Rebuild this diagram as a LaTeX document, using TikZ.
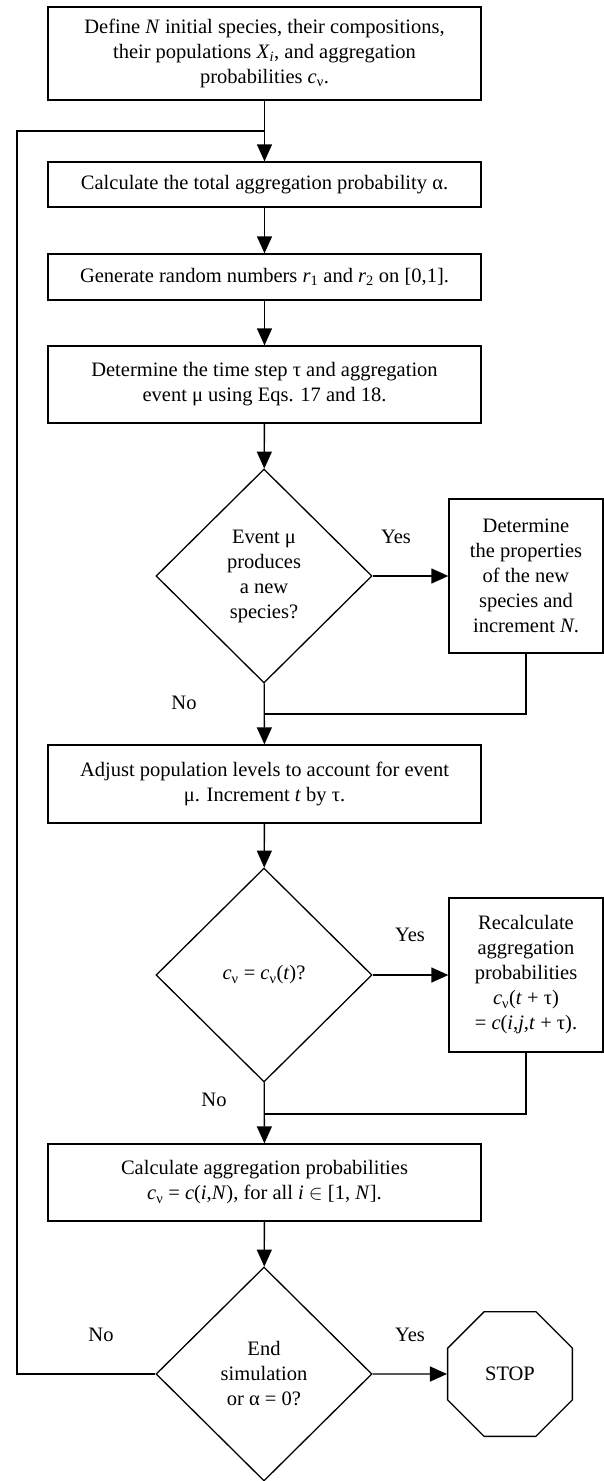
\documentclass[tikz,border=0pt]{standalone}
\usepackage{fontspec}
\setmainfont{Liberation Serif}
\usepackage{tikz}
\usetikzlibrary{arrows.meta,shapes.geometric}

\begin{document}
\begin{tikzpicture}[x=1pt, y=-1pt, line width=1.3pt,
  every node/.style={font=\fontsize{20.5}{25}\selectfont, align=center},
  box/.style={draw, rectangle, minimum width=433pt, inner sep=0pt},
  side/.style={draw, rectangle, minimum width=154pt, minimum height=154pt, inner sep=0pt},
  test/.style={draw, diamond, minimum width=216pt, minimum height=214pt, inner sep=0pt},
  arr/.style={-{Triangle[length=17pt,width=15pt]}}]
  \useasboundingbox (0,0) rectangle (604,1481);
  \node[box, minimum height=93pt] (def) at (264.5,53.5) {Define \textit{N} initial species, their compositions,\\ their populations \textit{X}\textsubscript{\textit{i}}, and aggregation\\ probabilities \textit{c}\textsubscript{ν}.};
  \node[box, minimum height=45pt] (tot) at (264.5,184.5) {Calculate the total aggregation probability α.};
  \node[box, minimum height=46pt] (rnd) at (264.5,277) {Generate random numbers \textit{r}\textsubscript{1} and \textit{r}\textsubscript{2} on [0,1].};
  \node[box, minimum height=77pt] (dt) at (264.5,384.5) {Determine the time step τ and aggregation\\ event μ using Eqs. 17 and 18.};
  \node[test] (q1) at (264,576) {Event μ\\ produces\\ a new\\ species?};
  \node[side] (prop) at (526,576) {Determine\\ the properties\\ of the new\\ species and\\ increment \textit{N}.};
  \node[box, minimum height=78pt] (adj) at (264.5,784) {Adjust population levels to account for event\\ μ. Increment \textit{t} by τ.};
  \node[test] (q2) at (264,975) {\textit{c}\textsubscript{ν} = \textit{c}\textsubscript{ν}(\textit{t})?};
  \node[side] (recalc) at (526,975) {Recalculate\\ aggregation\\ probabilities\\ \textit{c}\textsubscript{ν}(\textit{t} + τ)\\ = \textit{c}(\textit{i},\textit{j},\textit{t} + τ).};
  \node[box, minimum height=77pt] (calc) at (264.5,1182.5) {Calculate aggregation probabilities\\ \textit{c}\textsubscript{ν} = \textit{c}(\textit{i},\textit{N}), for all \textit{i} $\in$ [1, \textit{N}].};
  \node[test] (q3) at (264,1374) {End\\ simulation\\ or α = 0?};
  \node[draw, regular polygon, regular polygon sides=8, minimum size=135pt, inner sep=0pt] (stop) at (510,1374) {STOP};
  % yes / no labels
  \node (y1) at (396,537) {Yes};
  \node (n1) at (184,703) {No};
  \node (y2) at (410,935) {Yes};
  \node (n2) at (214,1100) {No};
  \node (y3) at (410,1335) {Yes};
  \node (n3) at (101,1335) {No};
  % joins
  \coordinate (j0) at (264,131);
  \coordinate (c0) at (17,131);
  \coordinate (j1) at (264,714);
  \coordinate (j2) at (264,1114);
  \draw[arr] (def) -- (tot);
  \draw[arr] (tot) -- (rnd);
  \draw[arr] (rnd) -- (dt);
  \draw[arr] (dt) -- (q1);
  \draw[arr] (q1) -- (prop);
  \draw (prop.south) |- (j1);
  \draw[arr] (q1) -- (adj);
  \draw[arr] (adj) -- (q2);
  \draw[arr] (q2) -- (recalc);
  \draw (recalc.south) |- (j2);
  \draw[arr] (q2) -- (calc);
  \draw[arr] (calc) -- (q3);
  \draw[arr] (q3) -- (stop);
  \draw (q3.west) -| (c0) -- (j0);
\end{tikzpicture}
\end{document}
